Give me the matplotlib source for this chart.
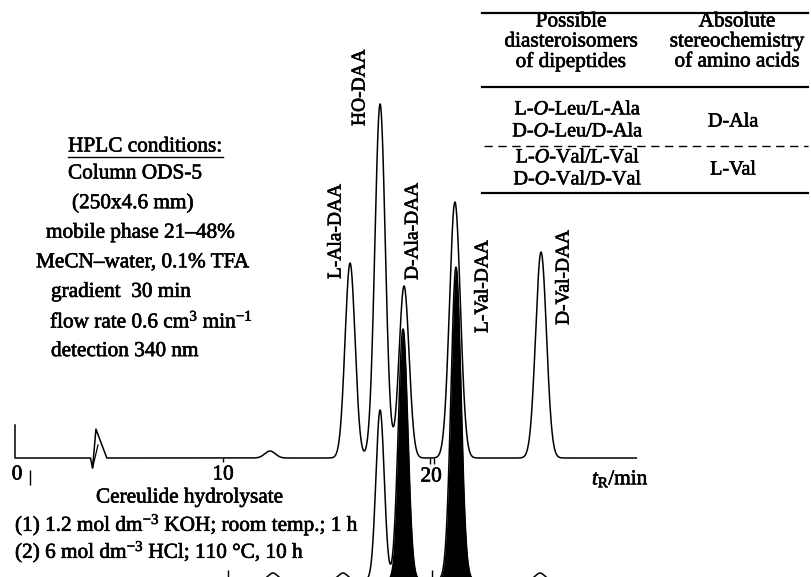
import numpy as np
import matplotlib.pyplot as plt
import matplotlib.patheffects as pe
from matplotlib.lines import Line2D

plt.rcParams['font.family'] = ['Liberation Serif', 'DejaVu Serif']
plt.rcParams['mathtext.fontset'] = 'custom'
plt.rcParams['mathtext.rm'] = 'Liberation Serif'
plt.rcParams['mathtext.it'] = 'Liberation Serif:italic'
plt.rcParams['mathtext.bf'] = 'Liberation Serif:bold'

# standards trace (upper): retention time (min), height, width (min)
std_names = ['L-Ala-DAA', 'HO-DAA', 'D-Ala-DAA', 'L-Val-DAA', 'D-Val-DAA']
std_t = [16.07, 17.51, 18.66, 21.10, 25.23]
std_h = [195, 354, 172, 256, 206]
std_w = [0.24, 0.25, 0.24, 0.26, 0.26]
minor_t = [12.23]
minor_h = [7]
minor_w = [0.25]
inject_t = [3.62, 3.72, 3.88, 4.40]
inject_h = [0, -10, 29, 0]

# hydrolysate trace (lower)
hyd_t = [17.51, 18.61, 21.15]
hyd_h = [170, 251, 313]
hyd_w = [0.20, 0.23, 0.24]
hyd_filled = [False, True, True]
hyd_minor_t = [12.37, 15.73, 25.18]
hyd_minor_h = [7, 7, 7]
hyd_minor_w = [0.22, 0.22, 0.22]

conditions = ['Column ODS-5', '(250x4.6 mm)', 'mobile phase 21–48%',
              'MeCN–water, 0.1% TFA', 'gradient  30 min',
              'flow rate 0.6 cm$^3$ min$^{-1}$', 'detection 340 nm']
hydrolysis = ['Cereulide hydrolysate',
              '(1) 1.2 mol dm$^{-3}$ KOH; room temp.; 1 h',
              '(2) 6 mol dm$^{-3}$ HCl; 110 °C, 10 h']
tab_head = [['Possible', 'diasteroisomers', 'of dipeptides'],
            ['Absolute', 'stereochemistry', 'of amino acids']]
tab_pairs = [['L-$\\mathit{O}$-Leu/L-Ala', 'D-$\\mathit{O}$-Leu/D-Ala'],
             ['L-$\\mathit{O}$-Val/L-Val', 'D-$\\mathit{O}$-Val/D-Val']]
tab_result = ['D-Ala', 'L-Val']


def peak(x, t, h, w):
    return h * np.exp(-0.5 * ((x - t) / w) ** 2)


W, H = 812, 577
fig = plt.figure(figsize=(W / 100, H / 100), dpi=100)
ax = fig.add_axes([0, 0, 1, 1])
ax.axis('off')
# 0 min at x=15 px, 20.85 px per min; y in pixels from bottom
ax.set_xlim(-15 / 20.85, (W - 15) / 20.85)
ax.set_ylim(0, H)

heavy = [pe.withStroke(linewidth=0.45, foreground='black')]

def txt(px, py, s, size=15.3, **kw):
    kw.setdefault('va', 'center')
    return fig.text(px / W, 1 - py / H, s, fontsize=size, path_effects=heavy, **kw)

def hline(x0, x1, py, **kw):
    fig.add_artist(Line2D([x0 / W, x1 / W], [1 - py / H] * 2, color='black', **kw))

x = np.linspace(0, 29.8, 4000)
base_up = 119
y_up = np.zeros_like(x)
for t, h, w in zip(std_t + minor_t, std_h + minor_h, std_w + minor_w):
    y_up += peak(x, t, h, w)
y_up += np.interp(x, inject_t, inject_h, left=0, right=0)
ax.plot(np.r_[0, x], np.r_[33, y_up] + base_up, color='black', lw=1.1)
ax.plot([inject_t[1], 3.98], [base_up + inject_h[1], base_up + 13], color='black', lw=0.9)

base_lo = -3
y_lo = np.zeros_like(x)
for t, h, w in zip(hyd_t + hyd_minor_t, hyd_h + hyd_minor_h, hyd_w + hyd_minor_w):
    y_lo += peak(x, t, h, w)
for t, h, w, f in zip(hyd_t, hyd_h, hyd_w, hyd_filled):
    if f:
        ax.fill_between(x, base_lo, peak(x, t, h, w) + base_lo, color='black', lw=0)
ax.plot(x, y_lo + base_lo, color='black', lw=1.1)

# ticks
ax.vlines([10], base_up - 4, base_up, color='black', lw=1)
ax.vlines([19.9, 20.1], base_up - 6, base_up, color='black', lw=1)
ax.vlines([0.72], H - 485, H - 470, color='black', lw=1)
ax.vlines([10.2, 20], 0, 7, color='black', lw=1)
txt(17, 475, '0', ha='center')
txt(223, 475, '10', ha='center')
txt(431, 477, '20', ha='center')
txt(592, 479, '$t_\\mathrm{R}$/min', ha='left')

# peak labels
lab_pos = [(336, 279), (360, 126), (413, 280), (483, 333), (564, 325)]
for name, (px, py) in zip(std_names, lab_pos):
    txt(px, py, name, size=14, rotation=90, ha='center', va='bottom')

# HPLC conditions block
txt(145, 147, 'HPLC conditions:', ha='center')
hline(68, 223, 157, lw=1)
cond_x = [68, 72, 46, 36, 51, 50, 51]
for i, (s, cx) in enumerate(zip(conditions, cond_x)):
    txt(cx, 174 + 29.6 * i, s, ha='left')

txt(96, 498, hydrolysis[0], ha='left')
txt(15, 525, hydrolysis[1], ha='left')
txt(15, 552, hydrolysis[2], ha='left')

# table
for yy in [13, 87, 193]:
    hline(482, 808, yy, lw=1.6)
hline(484, 808, 146, lw=1, ls=(0, (6, 4)))
for cx, col in zip([571, 737], tab_head):
    for j, s in enumerate(col):
        txt(cx, 22 + 20 * j, s, ha='center')
for k, (pair, res) in enumerate(zip(tab_pairs, tab_result)):
    y0 = 110 + 48 * k
    txt(578, y0, pair[0], size=14.5, ha='center')
    txt(578, y0 + 22, pair[1], size=14.5, ha='center')
    txt(733, y0 + 12, res, size=14.5, ha='center')

fig.savefig('out.png', dpi=100)
